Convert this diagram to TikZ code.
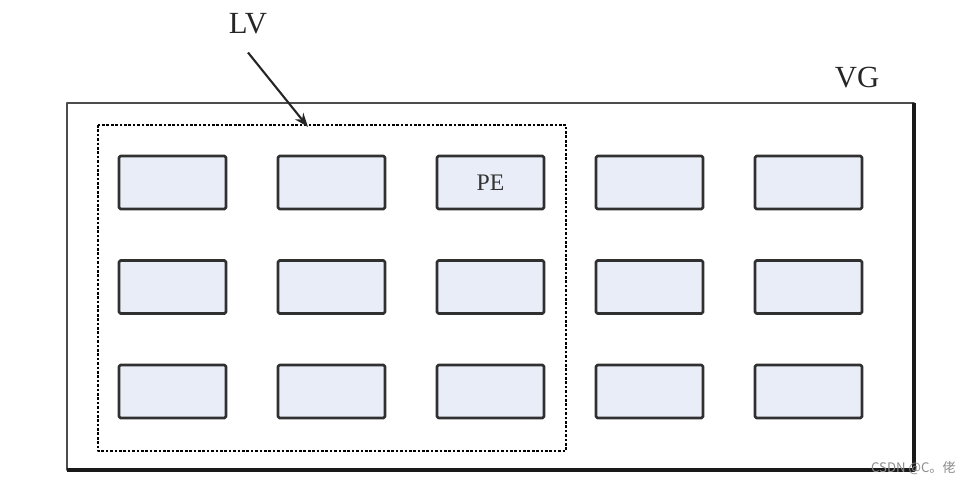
\documentclass[tikz,border=0pt]{standalone}
\usepackage{fontspec}
\setmainfont{Liberation Serif}
\newfontfamily\cjk{Noto Sans CJK SC}
\usetikzlibrary{positioning,arrows.meta}
\definecolor{pefill}{HTML}{E8EDF7}
\definecolor{pedraw}{HTML}{303030}
\tikzset{
  pebox/.style={draw=pedraw, line width=1.5pt, fill=pefill, rounded corners=0.8pt,
    minimum width=2.14cm, minimum height=1.06cm, inner sep=0pt, font=\fontsize{13.5}{15}\selectfont},
  lvbox/.style={draw=black, line width=1.6pt, dash pattern=on 1.5pt off 1pt},
  vgbox/.style={draw=black!70, line width=1.5pt},
}
\begin{document}
\begin{tikzpicture}[x=0.02cm, y=-0.02cm, line join=round, >={Stealth[length=8pt,width=6pt]}]
  \useasboundingbox (0,0) rectangle (974,484);
  \def\colstep{159} \def\rowstep{104.5}
  % volume group and logical volume
  \draw[vgbox] (67,103) rectangle (914,470);
  \draw[black!90, line width=1.8pt] (914,103)--(914,470)--(67,470);
  \draw[lvbox] (98,125) rectangle (566,451);
  % physical extents
  \foreach \i in {0,...,4}
    \foreach \j in {0,1,2}
      \node[pebox] (pe\i\j) at ({172.5+\colstep*\i},{182.5+\rowstep*\j}) {};
  \node[text=black!80, font=\fontsize{13.5}{15}\selectfont] at (pe20) {PE};
  % labels
  \node[text=black!85, font=\fontsize{17.5}{19}\selectfont] (lv) at (248,24) {LV};
  \node[text=black!85, font=\fontsize{17.5}{19}\selectfont] (vg) at (857,78) {VG};
  \coordinate (lvtop) at (308,127);
  \draw[->, line width=1.2pt, black!85] (lv.south) ++(0,12) -- (lvtop);
  \node[text=black!45, font=\cjk\fontsize{7.5}{9}\selectfont, anchor=east] (mark) at (962,468) {CSDN @C。佬};
\end{tikzpicture}
\end{document}
